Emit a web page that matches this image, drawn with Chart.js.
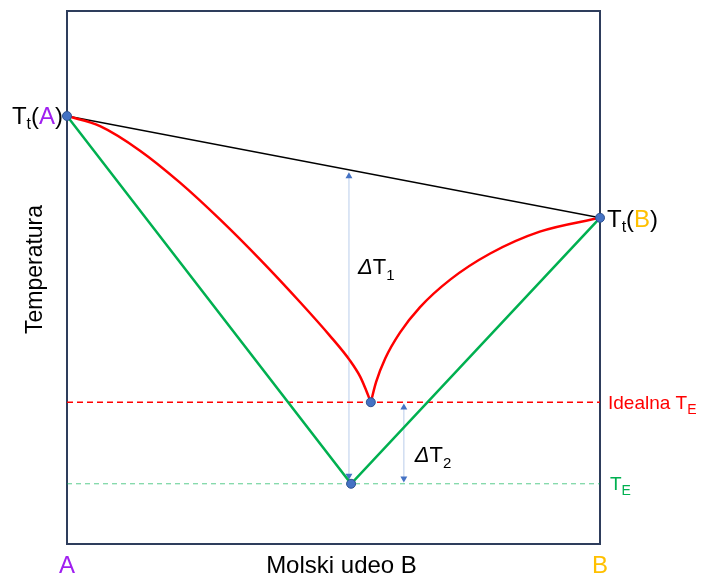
<!DOCTYPE html>
<html lang="en">
<head>
  <meta charset="UTF-8" />
  <title>Eutektikum</title>
  <script src="https://cdn.jsdelivr.net/npm/chart.js"></script>
  <style>
    body { margin: 0; background: #ffffff; }
    #wrap { width: 701px; height: 576px; position: relative; }
  </style>
</head>
<body>
  <div id="wrap"><canvas id="chart" width="701" height="576"></canvas></div>

  <script>
    // melting points of pure A and B (arbitrary temperature units)
    const meltX = [0, 1];
    const meltT = [80.3, 61.2];

    // ideal liquidus, branch from A and branch from B
    const liqAx = [0, 0.062, 0.137, 0.212, 0.287, 0.362, 0.437, 0.493, 0.531, 0.550, 0.561, 0.570];
    const liqAt = [80.3, 78.4, 73.8, 67.8, 60.9, 53.4, 45.4, 39.1, 34.4, 31.4, 28.9, 26.6];
    const liqBx = [0.570, 0.580, 0.597, 0.625, 0.662, 0.719, 0.794, 0.887, 1];
    const liqBt = [26.6, 30.4, 34.8, 39.7, 44.4, 49.6, 54.5, 58.6, 61.2];

    // ideal and real eutectic points
    const eutIdeal = { x: 0.570, t: 26.6 };
    const eutReal = { x: 0.533, t: 11.3 };

    // temperature-difference arrows
    const dT1 = { x: 0.529, from: 12.8, to: 69.0 };
    const dT2 = { x: 0.632, from: 12.3, to: 25.6 };

    const pts = (xs, ts) => xs.map((x, i) => ({ x, y: ts[i] }));

    const datasets = [
      {
        label: 'points',
        data: [
          { x: meltX[0], y: meltT[0] }, { x: meltX[1], y: meltT[1] },
          { x: eutIdeal.x, y: eutIdeal.t }, { x: eutReal.x, y: eutReal.t }
        ],
        showLine: false,
        clip: false,
        pointRadius: 4.5,
        pointBackgroundColor: '#4472C4',
        pointBorderColor: '#2F528F',
        pointBorderWidth: 1
      },
      {
        label: 'liqA', data: pts(liqAx, liqAt),
        borderColor: '#FF0000', borderWidth: 2.5, pointRadius: 0,
        cubicInterpolationMode: 'monotone'
      },
      {
        label: 'liqB', data: pts(liqBx, liqBt),
        borderColor: '#FF0000', borderWidth: 2.5, pointRadius: 0,
        cubicInterpolationMode: 'monotone'
      },
      {
        label: 'real',
        data: [{ x: meltX[0], y: meltT[0] }, { x: eutReal.x, y: eutReal.t }, { x: meltX[1], y: meltT[1] }],
        borderColor: '#00B050', borderWidth: 2.5, pointRadius: 0
      },
      {
        label: 'melt',
        data: pts(meltX, meltT),
        borderColor: '#000000', borderWidth: 1.5, pointRadius: 0
      },
      {
        label: 'idealTE',
        data: [{ x: 0, y: eutIdeal.t }, { x: 1, y: eutIdeal.t }],
        borderColor: '#FF0000', borderWidth: 1.5, borderDash: [6, 4], pointRadius: 0
      },
      {
        label: 'realTE',
        data: [{ x: 0, y: eutReal.t }, { x: 1, y: eutReal.t }],
        borderColor: 'rgba(0,176,80,0.65)', borderWidth: 1, borderDash: [5, 4], pointRadius: 0
      },
      {
        label: 'dT1',
        data: [{ x: dT1.x, y: dT1.from }, { x: dT1.x, y: dT1.to }],
        borderColor: '#C5D5EE', borderWidth: 1.2,
        pointStyle: 'triangle', pointRotation: [180, 0], pointRadius: 4,
        pointBackgroundColor: '#4472C4', pointBorderColor: '#4472C4', pointBorderWidth: 0
      },
      {
        label: 'dT2',
        data: [{ x: dT2.x, y: dT2.from }, { x: dT2.x, y: dT2.to }],
        borderColor: '#C5D5EE', borderWidth: 1.2,
        pointStyle: 'triangle', pointRotation: [180, 0], pointRadius: 4,
        pointBackgroundColor: '#4472C4', pointBorderColor: '#4472C4', pointBorderWidth: 0
      }
    ];

    const FONT = '"Liberation Sans", Arial, sans-serif';

    // draw a row of text pieces (with subscripts)
    function drawRuns(ctx, runs, x, y, align) {
      const widths = runs.map(r => { ctx.font = r.font; return ctx.measureText(r.text).width; });
      const total = widths.reduce((a, b) => a + b, 0);
      let cx = align === 'right' ? x - total : x;
      ctx.textAlign = 'left';
      ctx.textBaseline = 'alphabetic';
      runs.forEach((r, i) => {
        ctx.font = r.font;
        ctx.fillStyle = r.color;
        ctx.fillText(r.text, cx, y + (r.dy || 0));
        cx += widths[i];
      });
    }

    const frameAndLabels = {
      id: 'frameAndLabels',
      beforeDatasetsDraw(chart) {
        const { ctx, chartArea: a } = chart;
        ctx.save();
        ctx.strokeStyle = '#2E3D5C';
        ctx.lineWidth = 2;
        ctx.strokeRect(a.left, a.top, a.right - a.left, a.bottom - a.top);
        ctx.restore();
      },
      afterDraw(chart) {
        const { ctx, chartArea: a, scales } = chart;
        const xs = scales.x, ys = scales.y;
        ctx.save();

        const big = '24px ' + FONT, sub = '16px ' + FONT;
        const mid = '19px ' + FONT, midSub = '14px ' + FONT;

        // melting point labels
        const yA = ys.getPixelForValue(meltT[0]) + 8;
        drawRuns(ctx, [
          { text: 'T', font: big, color: '#000' },
          { text: 't', font: sub, color: '#000', dy: 5 },
          { text: '(', font: big, color: '#000' },
          { text: 'A', font: big, color: '#A020F0' },
          { text: ')', font: big, color: '#000' }
        ], xs.getPixelForValue(0) - 4, yA, 'right');

        const yB = ys.getPixelForValue(meltT[1]) + 9;
        drawRuns(ctx, [
          { text: 'T', font: big, color: '#000' },
          { text: 't', font: sub, color: '#000', dy: 5 },
          { text: '(', font: big, color: '#000' },
          { text: 'B', font: big, color: '#FFC000' },
          { text: ')', font: big, color: '#000' }
        ], xs.getPixelForValue(1) + 7, yB, 'left');

        // eutectic labels on the right
        drawRuns(ctx, [
          { text: 'Idealna T', font: mid, color: '#FF0000' },
          { text: 'E', font: midSub, color: '#FF0000', dy: 5 }
        ], xs.getPixelForValue(1) + 8, ys.getPixelForValue(eutIdeal.t) + 7, 'left');
        drawRuns(ctx, [
          { text: 'T', font: mid, color: '#00B050' },
          { text: 'E', font: midSub, color: '#00B050', dy: 5 }
        ], xs.getPixelForValue(1) + 10, ys.getPixelForValue(eutReal.t) + 6, 'left');

        // delta T labels
        const dFont = '22px ' + FONT, dIt = 'italic 22px ' + FONT, dSub = '15px ' + FONT;
        drawRuns(ctx, [
          { text: 'Δ', font: dIt, color: '#000' },
          { text: 'T', font: dFont, color: '#000' },
          { text: '1', font: dSub, color: '#000', dy: 6 }
        ], xs.getPixelForValue(dT1.x) + 9, ys.getPixelForValue(52.2) + 8, 'left');
        drawRuns(ctx, [
          { text: 'Δ', font: dIt, color: '#000' },
          { text: 'T', font: dFont, color: '#000' },
          { text: '2', font: dSub, color: '#000', dy: 6 }
        ], xs.getPixelForValue(dT2.x) + 11, ys.getPixelForValue(16.9) + 8, 'left');

        // axis labels
        ctx.textBaseline = 'middle';
        ctx.textAlign = 'center';
        ctx.font = big;
        const yLab = a.bottom + 22;
        ctx.fillStyle = '#A020F0';
        ctx.fillText('A', xs.getPixelForValue(0), yLab);
        ctx.fillStyle = '#FFC000';
        ctx.fillText('B', xs.getPixelForValue(1), yLab);
        ctx.fillStyle = '#000';
        ctx.fillText('Molski udeo B', (a.left + a.right) / 2 + 8, yLab);

        ctx.translate(36, (a.top + a.bottom) / 2 - 8);
        ctx.rotate(-Math.PI / 2);
        ctx.font = '23px ' + FONT;
        ctx.fillText('Temperatura', 0, 0);
        ctx.restore();
      }
    };

    new Chart(document.getElementById('chart'), {
      type: 'line',
      data: { datasets },
      options: {
        responsive: false,
        animation: false,
        layout: { padding: { left: 67, top: 11, right: 101, bottom: 32 } },
        plugins: { legend: { display: false }, tooltip: { enabled: false } },
        scales: {
          x: { type: 'linear', min: 0, max: 1, display: false },
          y: { type: 'linear', min: 0, max: 100, display: false }
        }
      },
      plugins: [frameAndLabels]
    });
  </script>
</body>
</html>
